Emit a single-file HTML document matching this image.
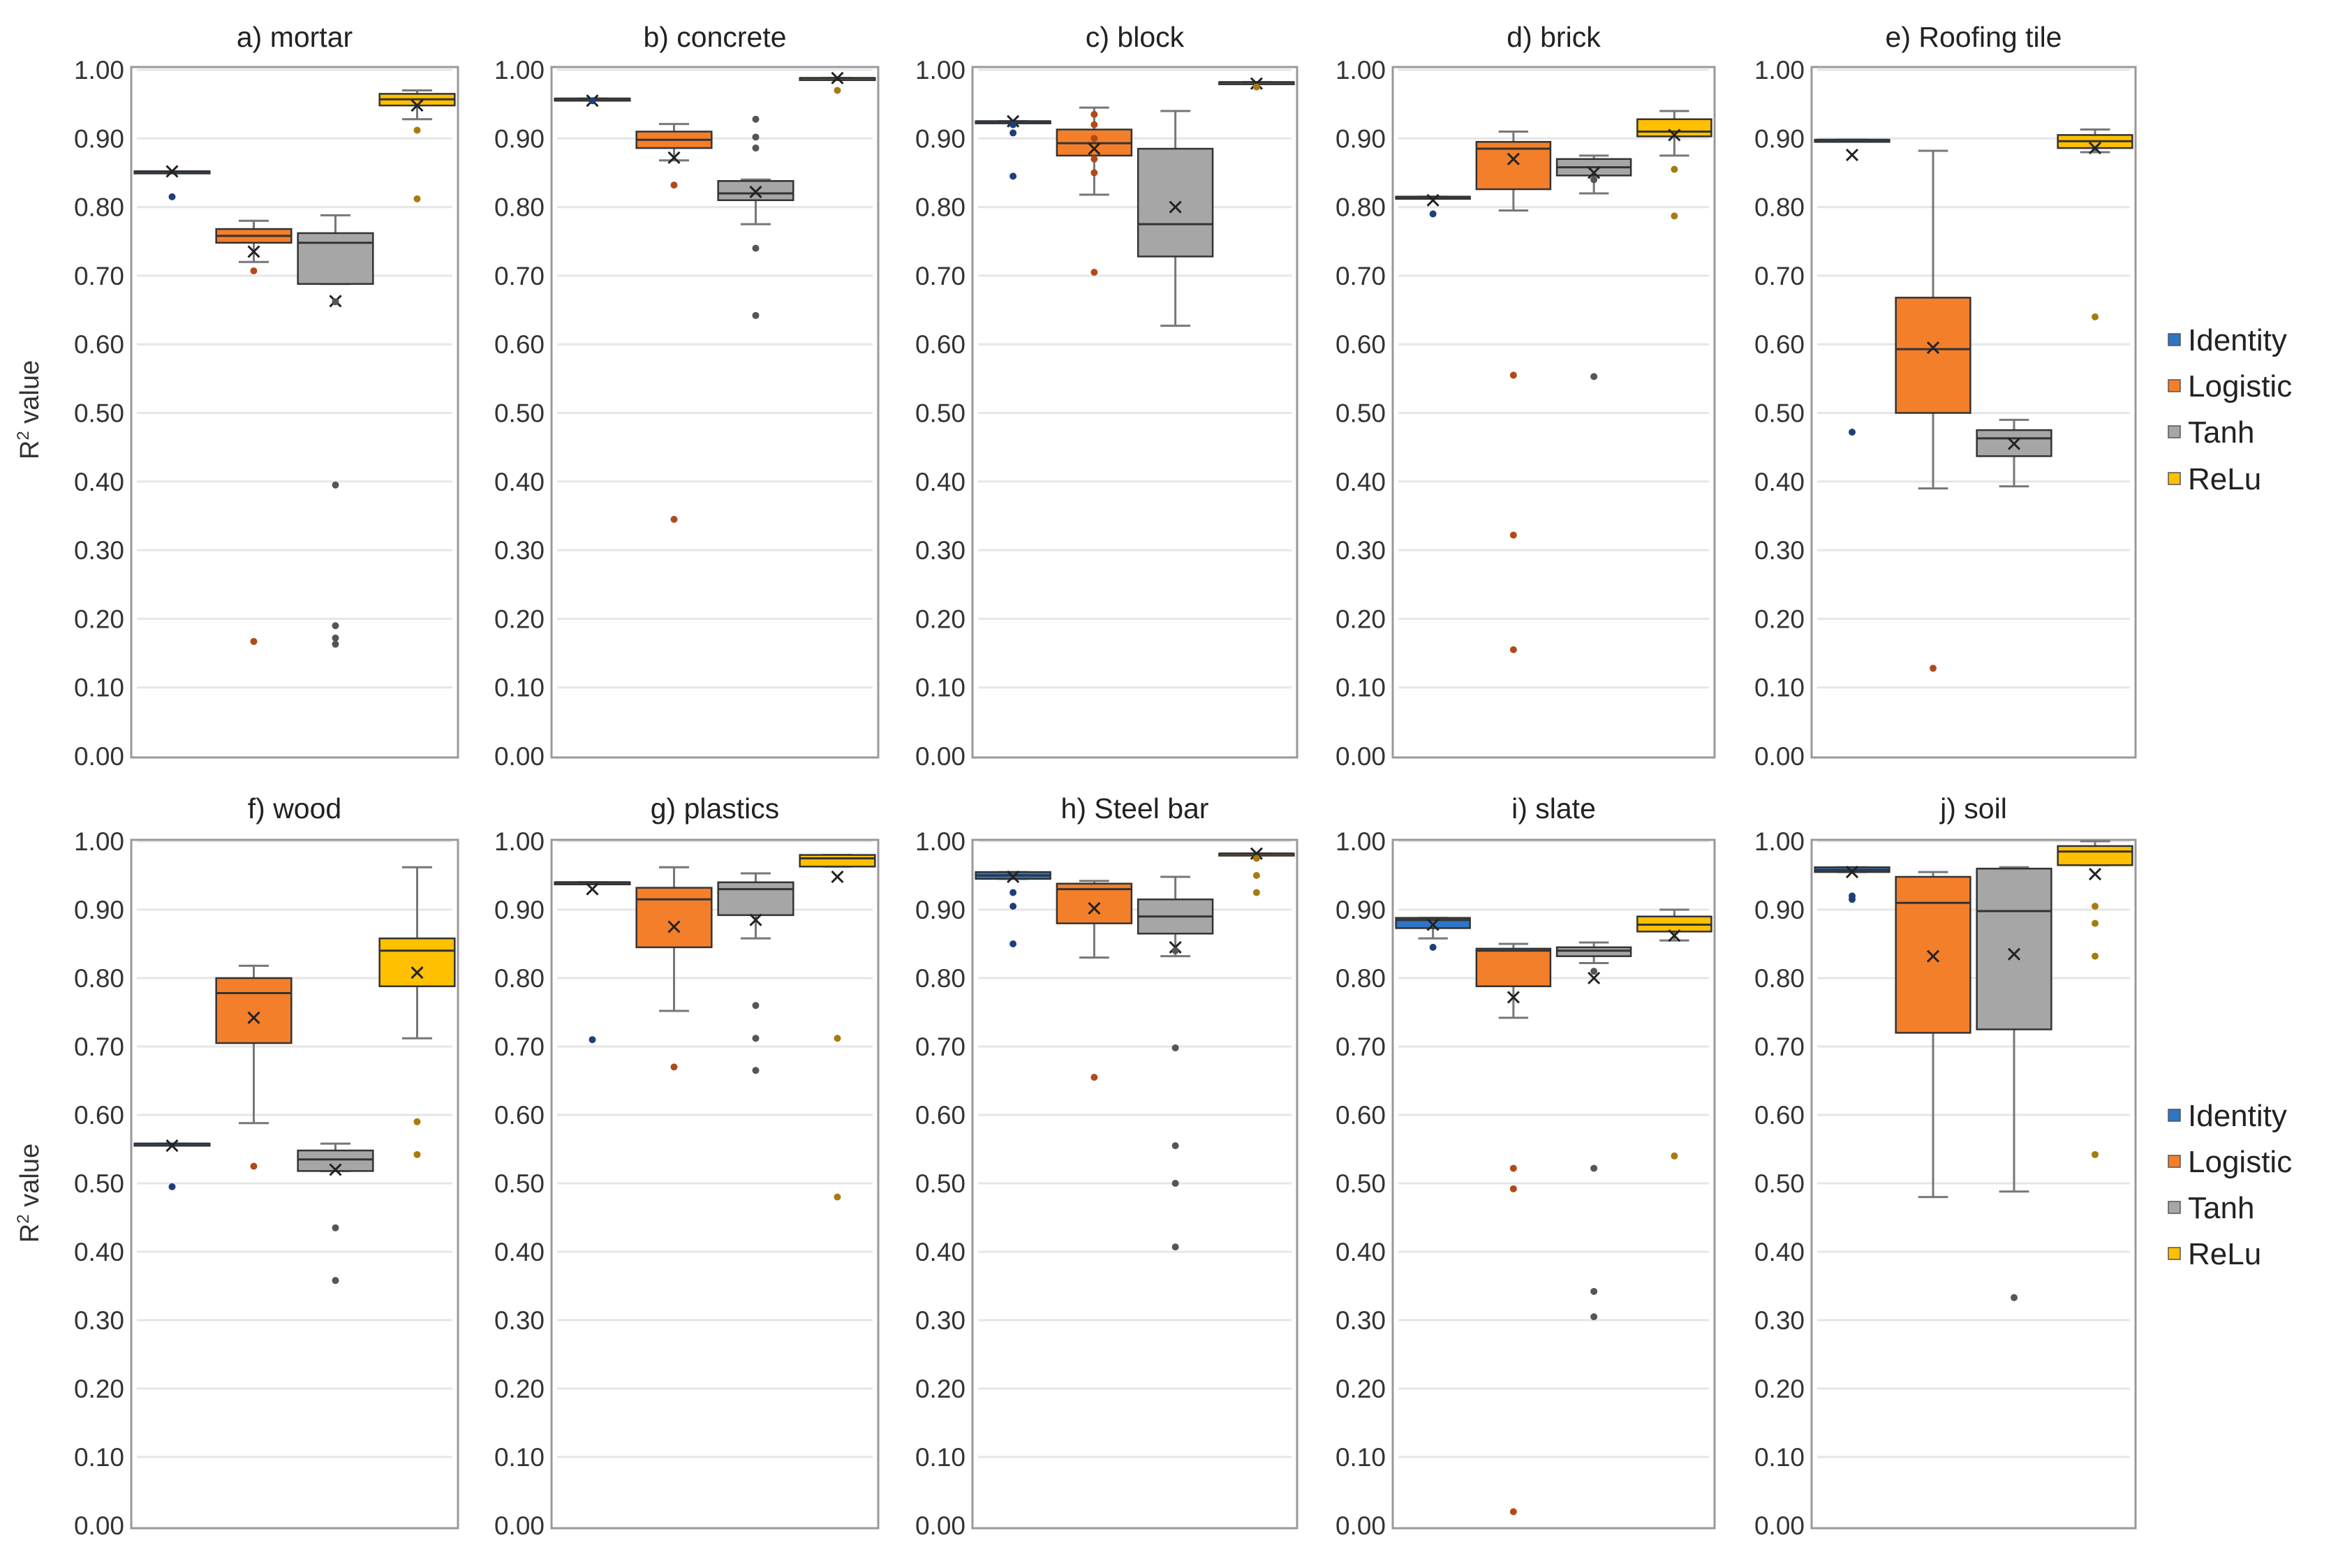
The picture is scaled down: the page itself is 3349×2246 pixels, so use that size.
<!DOCTYPE html>
<html><head><meta charset="utf-8"><style>
html,body{margin:0;padding:0;background:#fff;}
svg{display:block;font-family:"Liberation Sans",Arial,sans-serif;}
</style></head><body>
<svg id="chart" width="3349" height="2246" viewBox="0 0 3349 2246" xmlns="http://www.w3.org/2000/svg"></svg>
<script>
// Data arrays: [minWhisker, q1, median, q3, maxWhisker, mean]
const panelTitles = ["a) mortar","b) concrete","c) block","d) brick","e) Roofing tile","f) wood","g) plastics","h) Steel bar","i) slate","j) soil"];
const seriesNames = ["Identity","Logistic","Tanh","ReLu"];
const tickLabels = ["0.00","0.10","0.20","0.30","0.40","0.50","0.60","0.70","0.80","0.90","1.00"];
const identityStats = [
 [0.852,0.852,0.852,0.852,0.852,0.852],[0.958,0.958,0.958,0.958,0.958,0.955],[0.925,0.925,0.925,0.925,0.925,0.925],
 [0.815,0.815,0.815,0.815,0.815,0.81],[0.898,0.898,0.898,0.898,0.898,0.876],[0.558,0.558,0.558,0.558,0.558,0.555],
 [0.94,0.94,0.94,0.94,0.94,0.93],[0.945,0.945,0.95,0.955,0.955,0.948],[0.858,0.873,0.885,0.888,0.888,0.878],
 [0.955,0.955,0.958,0.962,0.962,0.955]];
const logisticStats = [
 [0.72,0.748,0.758,0.768,0.78,0.735],[0.868,0.886,0.898,0.91,0.921,0.872],[0.818,0.875,0.893,0.913,0.945,0.885],
 [0.795,0.826,0.885,0.895,0.91,0.87],[0.39,0.50,0.593,0.668,0.882,0.595],[0.588,0.705,0.778,0.80,0.818,0.742],
 [0.752,0.845,0.915,0.932,0.962,0.875],[0.83,0.88,0.93,0.938,0.942,0.902],[0.742,0.788,0.84,0.843,0.85,0.772],
 [0.48,0.72,0.91,0.948,0.955,0.832]];
const tanhStats = [
 [0.688,0.688,0.748,0.762,0.788,0.663],[0.775,0.81,0.82,0.838,0.84,0.822],[0.627,0.728,0.775,0.885,0.94,0.80],
 [0.82,0.846,0.858,0.87,0.875,0.85],[0.393,0.437,0.463,0.475,0.49,0.455],[0.518,0.518,0.535,0.548,0.558,0.52],
 [0.858,0.892,0.93,0.94,0.953,0.885],[0.832,0.865,0.89,0.915,0.948,0.845],[0.822,0.832,0.84,0.845,0.852,0.80],
 [0.488,0.725,0.898,0.96,0.962,0.835]];
const reluStats = [
 [0.928,0.948,0.957,0.965,0.97,0.948],[0.988,0.988,0.988,0.988,0.988,0.988],[0.982,0.982,0.982,0.982,0.982,0.98],
 [0.875,0.903,0.91,0.928,0.94,0.905],[0.88,0.886,0.896,0.905,0.913,0.886],[0.712,0.788,0.84,0.858,0.962,0.808],
 [0.963,0.963,0.975,0.98,0.98,0.948],[0.982,0.982,0.982,0.982,0.982,0.982],[0.855,0.868,0.878,0.89,0.9,0.862],
 [0.965,0.965,0.985,0.993,1.0,0.952]];
const identityOutliers = [[0.815],[0.955],[0.92,0.908,0.845],[0.79],[0.472],[0.495],[0.71],[0.925,0.905,0.85],[0.845],[0.92,0.915]];
const logisticOutliers = [[0.707,0.167],[0.832,0.345],[0.935,0.92,0.9,0.87,0.85,0.705],[0.555,0.322,0.155],[0.128],[0.525],[0.67],[0.655],[0.522,0.492,0.02],[]];
const tanhOutliers = [[0.662,0.395,0.19,0.172,0.163],[0.928,0.902,0.886,0.74,0.642],[],[0.84,0.553],[],[0.435,0.358],[0.76,0.712,0.665],[0.84,0.698,0.555,0.50,0.407],[0.81,0.522,0.342,0.305],[0.333]];
const reluOutliers = [[0.912,0.812],[0.97],[0.975],[0.855,0.787],[0.64],[0.59,0.542],[0.712,0.48],[0.975,0.95,0.925],[0.54],[0.905,0.88,0.832,0.542]];

const NS="http://www.w3.org/2000/svg";
const svg=document.getElementById('chart');
function mk(tag,attrs,parent){const e=document.createElementNS(NS,tag);for(const k in attrs)e.setAttribute(k,attrs[k]);(parent||svg).appendChild(e);return e;}
const fills=["#2e75c6","#f47f2a","#a6a6a6","#ffc000"];
const dotCols=["#1f3f78","#b04a1a","#555555","#a87a10"];
const allStats=[identityStats,logisticStats,tanhStats,reluStats];
const allOut=[identityOutliers,logisticOutliers,tanhOutliers,reluOutliers];
const colX=[[188,656],[790,1258],[1393,1858],[1995,2456],[2595,3059]];
const rows=[{top:96,bot:1085,y1:100,y0:1083,title:53},{top:1203,bot:2189,y1:1205,y0:2185,title:1158}];

for(let p=0;p<10;p++){
  const r=rows[Math.floor(p/5)], c=colX[p%5];
  const g=mk('g',{});
  
  
  const y=v=>r.y0-(r.y0-r.y1)*v;
  const t=mk('text',{x:(c[0]+c[1])/2,y:r.title+14,'text-anchor':'middle','font-size':41,fill:'#222'},g);
  t.textContent=panelTitles[p];
  
  
  for(let i=0;i<tickLabels.length;i++){
    const v=i/10;
    if(i>0){const gl=mk('line',{x1:c[0]+8,x2:c[1]-8,y1:y(v),y2:y(v),stroke:'#e6e6e6','stroke-width':3},g);
      }
    const tl=mk('text',{x:c[0]-10,y:y(v)+13,'text-anchor':'end','font-size':37,fill:'#333'},g);
    tl.textContent=tickLabels[i];
    
    
  }
  const frame=mk('rect',{x:c[0],y:r.top,width:c[1]-c[0],height:r.bot-r.top,fill:'none',stroke:'#999','stroke-width':3},g);
  
  const cw=(c[1]-c[0])/4;
  for(let s=0;s<4;s++){
    const st=allStats[s][p];
    const cx=c[0]+cw*(s+0.5), bw=cw*0.92;
    const bg=mk('g',{},g);
    
    
    const wcol='#777';
    mk('line',{x1:cx,x2:cx,y1:y(st[0]),y2:y(st[1]),stroke:wcol,'stroke-width':3},bg);
    mk('line',{x1:cx,x2:cx,y1:y(st[3]),y2:y(st[4]),stroke:wcol,'stroke-width':3},bg);
    mk('line',{x1:cx-bw*0.2,x2:cx+bw*0.2,y1:y(st[0]),y2:y(st[0]),stroke:wcol,'stroke-width':3},bg);
    mk('line',{x1:cx-bw*0.2,x2:cx+bw*0.2,y1:y(st[4]),y2:y(st[4]),stroke:wcol,'stroke-width':3},bg);
    const h=Math.max(y(st[1])-y(st[3]),3);
    mk('rect',{x:cx-bw/2,y:y(st[3]),width:bw,height:h,fill:fills[s],stroke:'#333','stroke-width':2.5},bg);
    mk('line',{x1:cx-bw/2,x2:cx+bw/2,y1:y(st[2]),y2:y(st[2]),stroke:'#333','stroke-width':3},bg);
    const my=y(st[5]),m=8;
    mk('path',{d:`M${cx-m},${my-m}L${cx+m},${my+m}M${cx-m},${my+m}L${cx+m},${my-m}`,stroke:'#222','stroke-width':3},bg);
    for(const o of allOut[s][p]){
      const d=mk('circle',{cx:cx,cy:y(o),r:5,fill:dotCols[s]},bg);
      
      
    }
  }
}
// y-axis titles
for(let k=0;k<2;k++){
  const cy=k?1709:587;
  const a=mk('text',{x:0,y:0,transform:`translate(55,${cy}) rotate(-90)`,'text-anchor':'middle','font-size':38,fill:'#333'});
  a.innerHTML='R<tspan font-size="24" dy="-14">2</tspan><tspan dy="14"> value</tspan>';
  
  
}
// legends
const legY=[[487,553,619,686],[1598,1664,1730,1796]];
for(let k=0;k<2;k++){
  const lg=mk('g',{});
  
  
  for(let s=0;s<4;s++){
    const e=mk('g',{},lg);
    
    
    mk('rect',{x:3106,y:legY[k][s]-9,width:17,height:17,fill:fills[s],stroke:'#555','stroke-width':1.5},e);
    const tx=mk('text',{x:3134,y:legY[k][s]+15,'font-size':44,fill:'#222'},e);
    tx.textContent=seriesNames[s];
  }
}
</script>
</body></html>
